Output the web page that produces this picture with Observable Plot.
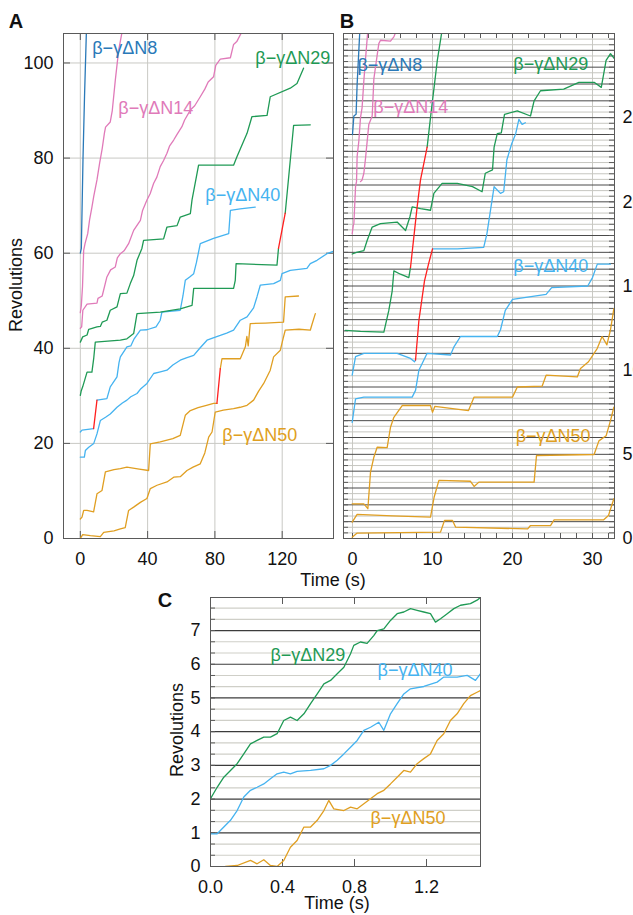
<!DOCTYPE html>
<html><head><meta charset="utf-8">
<script src="https://cdn.jsdelivr.net/npm/d3@7"></script>
<script src="https://cdn.jsdelivr.net/npm/@observablehq/plot@0.6"></script>
<style>
html,body{margin:0;padding:0;background:#fff;}
body{width:633px;height:915px;overflow:hidden;position:relative;font-family:"Liberation Sans",Arial,Helvetica,sans-serif;}
.panel{position:absolute;}
.panel svg{max-width:none;display:block;}
#overlay{position:absolute;left:0;top:0;pointer-events:none;}
</style></head><body>
<div id="pA" class="panel" style="left:0;top:0;width:345px;height:600px"></div>
<div id="pB" class="panel" style="left:340px;top:0;width:293px;height:600px"></div>
<div id="pC" class="panel" style="left:150px;top:585px;width:345px;height:330px"></div>
<svg id="overlay" width="633" height="915"></svg>
<script>
// ---------- series names & colours ----------
const SERIES = ["β−γΔN8", "β−γΔN14", "β−γΔN29", "β−γΔN40", "β−γΔN50"];
const COLORS = ["#2a79b8", "#e07ab9", "#1f9a55", "#45b3f0", "#e09f22"];
const RED = "#ff1f1f";

// ---------- Panel A : [time s, revolutions] ----------
const A_N8 = [[0,60],[0.6,61],[1.6,80],[2.5,93],[3.6,106.5]];
const A_N14a = [[0,47.5],[0.6,49],[1.3,53],[2,60.6],[2.8,62],[4.4,64.1],[5.5,67],[6.9,69.7],[8,72],[9.9,75.4],[11.5,79],[13,82],[14.3,85.2],[15,86.5],[17.8,87.6],[19,90],[20.8,96.4],[22.8,102.7],[24.8,106.5]];
const A_N14b = [[0,44.2],[0.8,44.5],[1.5,48],[4,49.3],[9.9,49.5],[10.5,50.5],[13,51],[15.8,55],[18,56.5],[20.8,57.1],[22,59],[23.8,59.9],[26,60.5],[28.7,62],[31.7,64.8],[33,65.5],[35.7,66.9],[37,69],[39.6,71.2],[41.5,72.5],[43.6,74.7],[45.5,76],[47.5,78.2],[49.5,79.5],[51.5,81],[53,82.5],[55.5,83.8],[57.5,85],[60.4,86.6],[62,88],[65.4,90.1],[68,91],[71.3,92.9],[74,94.5],[76,96],[79.2,97.1],[80.5,99.5],[83.2,100.8],[89.2,101.1],[91.1,103.9],[93,104.5],[96.1,106.6]];
const A_N29a = [[0,41.3],[1.4,42.4],[4,42.8],[5,44],[9.9,44.5],[11.9,44.6],[13,45.5],[15.8,45.9],[17.8,48],[21.8,48.7],[23.8,51.5],[27.7,51.6],[29.7,53.6],[31.7,55.3],[33.7,58.5],[36.6,61],[37.6,62.7],[49.5,63],[51.5,65.5],[57.5,65.8],[59.4,67.6],[65.4,68.3],[66.4,71.2],[70.3,78.5],[91.1,78.5],[93.1,80.3],[99.1,85.2],[102,88.7],[111,89],[112.9,92.9],[124.8,94.7],[128.8,95.7],[132.7,98.9]];
const A_N29b = [[0,30.1],[0.5,31],[1.4,31.9],[4,35],[6.9,35],[8,38],[8.9,41.3],[23.8,41.7],[27.7,42],[31.7,43.1],[33.7,47.3],[47.5,47.6],[59.4,48.3],[66.4,49],[67.4,52.6],[91.1,52.6],[92.1,54.3],[92.6,57.8],[116.9,57.5],[117.8,61]];
const A_N29b_red = [[117.8,61],[121.8,68.4]];
const A_N29b_end = [[121.8,68.4],[126.8,86.9],[136.7,87]];
const A_N40a = [[0,22.4],[1,22.8],[7.9,23.1]];
const A_N40a_red = [[7.9,23.1],[9.9,29.1]];
const A_N40a_end = [[9.9,29.1],[15.8,29.4],[17.8,31.9],[19,32.5],[21.8,34],[23,37],[23.8,38.2],[27.7,40.3],[30,40.5],[32,42],[35.7,43.8],[39.6,43.9],[45,44.5],[47.5,45.9],[48.5,47.6],[59.4,48],[61,51],[62.4,54.3],[65,55],[67.4,55.7],[69,58],[71.3,62],[79.2,63.1],[88.2,64.1],[89.2,69],[95,69.3],[104,69.7]];
const A_N40b = [[0,17.1],[2.4,17.1],[3,18.5],[5,19.2],[8,20],[9.9,22],[11.9,24.8],[15,25.5],[17.8,26.2],[21.8,27.6],[25,28.5],[27.7,29.1],[30,29.8],[33.7,30.5],[36,31.5],[39.6,32.6],[43.6,34.7],[47,35],[51.5,35.4],[55,36.5],[59.4,37.5],[63,38],[67.4,38.5],[71,40],[75.3,41.7],[79,42.2],[83.2,42.7],[87,43.2],[91.1,43.8],[95.1,45.9],[99.1,46.6],[103,48.5],[105,50.8],[107,53.3],[114.9,53.6],[118.9,54.3],[119.9,55.7],[124.8,56.4],[134.7,56.8],[136.7,57.8],[140.7,58.5],[146.6,59.9],[150.6,60.4]];
const A_N50a = [[0,4.1],[1,4.5],[2,5.9],[4,5.9],[7.9,5.6],[9.9,9.4],[12.9,10.1],[14.9,14],[20,14.5],[23.8,14.7],[27.7,15],[35,14.6],[40.6,14.3],[41.6,19.9],[47.5,20.3],[55,21],[59.4,21.7],[62.4,25.9],[65.4,26.9],[70,27.5],[75,28],[79.2,28.4],[81.2,28.4]];
const A_N50a_red = [[81.2,28.4],[83.2,35.7]];
const A_N50a_end = [[83.2,35.7],[84.2,37.8],[95.1,37.8],[98.1,40.3],[99,42.5],[99.8,40.5],[101,45.2],[110,45.3],[120.8,45.5],[121.8,50.8],[129.7,51]];
const A_N50b = [[0,0],[1.4,0.8],[6,0.6],[11.9,0.4],[13.9,1.3],[20,1.6],[23.8,2],[26.7,2.3],[28.7,5.9],[31.7,6.6],[35.7,7.6],[39.6,8.4],[41.6,10.5],[45.6,11.2],[51.5,11.9],[55.5,12.9],[59.4,13],[63.4,14.3],[67,15],[71.3,15.7],[74,18],[76.3,21.3],[78.3,22.4],[80.2,26.6],[85,27],[91.1,27.3],[95,27.6],[99.1,28],[103,29.1],[106,31],[109,32.6],[112.9,35.4],[114.9,38.2],[118.9,39.6],[120.5,42],[121.8,43.8],[130,44],[136.7,43.8],[137.7,45],[139.7,47.3]];
const A_xticks = [0, 40, 80, 120];
const A_yticks = [0, 20, 40, 60, 80, 100];
const A_labelT = [7.1, 22.6, 104, 74.3, 84.4];
const A_labelR = [103.2, 90.5, 101, 72.2, 21.7];

// ---------- Panel B ----------
const B_N8 = [[0,24],[0.17,25.1],[0.45,25.2],[0.58,27],[0.92,30.2]];
const B_N14a = [[-0.04,18.1],[0.1,18.6],[0.17,18.7],[0.38,20.9],[0.5,21.2],[0.58,22.7],[0.79,23.6],[1,25],[1.2,25.6],[1.42,27.2],[1.63,28.5],[1.92,30.2]];
const B_N14b = [[1,21.2],[1.2,21.3],[1.42,21.7],[1.63,22.6],[2.04,24.6],[2.46,25.1],[2.67,27.3],[3.08,28.7],[3.29,29.4],[3.5,29.6],[4.75,29.55],[5.17,29.8],[5.5,30.2]];
const B_N29a = [[-0.04,16.9],[0.5,17.0],[1.42,17.1],[1.83,17.7],[2.46,18.5],[3.5,18.7],[5.58,18.8],[6.63,18.3],[7.17,19.1],[7.46,19.7],[8.5,19.6],[9.75,19.5],[10.17,20.5],[11.2,21.1],[13.1,21.1],[15,20.9],[16.2,20.6],[16.6,21.7],[17.5,21.9],[17.7,23.25],[18.1,24.05],[18.6,24.1],[19,25.2],[20.6,25.4],[22.25,25.1],[22.7,26],[23.5,26.6],[26.4,26.7],[28.3,27.1],[30.2,27.1],[31.1,26.8],[31.7,28.4],[32.25,28.8],[32.75,28.5]];
const B_N29b = [[-0.88,12.36],[1,12.3],[3.92,12.26],[4.54,13.55],[4.96,14.7],[5.17,15.9],[6,15.7],[7.04,15.5],[7.25,16.1]];
const B_N29b_red = [[7.25,16.1],[8.08,19.7],[8.5,21.3],[9.33,23.25]];
const B_N29b_end = [[9.33,23.25],[9.75,25],[10.6,28.4],[11.2,30.2]];
const B_N40a = [[-0.04,9.7],[0.38,10.8],[1.42,11],[5.58,11],[7.25,10.7],[7.75,10.5],[7.88,10.6]];
const B_N40a_red = [[7.88,10.6],[8.3,12.95],[9,15.3],[9.5,16.3],[10,17.2]];
const B_N40a_end = [[10,17.2],[13.1,17.2],[16.4,17.3],[16.8,18.1],[17.7,20.9],[18.5,20.5],[18.9,20.6],[19.3,22.5],[19.9,23.45],[20.4,24.05],[20.8,24.9],[21.2,24.6],[21.6,24.7]];
const B_N40b = [[-0.04,6.9],[0.38,8.3],[1.42,8.4],[7.46,8.4],[7.88,8.8],[8.3,10],[9.33,11],[12.25,10.9],[12.7,11.4],[13.5,12],[18.1,12],[18.5,12.4],[19.1,13.55],[20,14.2],[24.2,14.5],[24.9,14.9],[29.4,15],[30,15.5],[30.6,16.3],[32.25,16.3]];
const B_N50a = [[-0.04,2.06],[1.42,2.06],[1.92,1.77],[2.25,3.94],[2.67,4.83],[3.08,5.42],[4.33,5.4],[4.75,6.61],[5.17,7.2],[6.21,7.9],[9.75,7.9],[10,7.5],[10.3,7.85],[14.5,7.6],[15.2,8.4],[20,8.4],[20.6,9],[23.7,9.05],[24.2,9.7],[28.1,9.6],[28.5,10.1],[29.5,10.5],[30.6,11.3],[31.2,12],[31.8,11.5],[32.25,12.4],[32.67,13.65]];
const B_N50b = [[-0.04,0.97],[0.58,1.43],[5,1.35],[9.75,1.27],[10.2,2.45],[10.8,3.45],[14.75,3.4],[15.2,3.09],[15.8,3.35],[22.7,3.35],[23,4.93],[30.2,4.99],[30.8,5.8],[31.7,6.1],[32.25,7],[32.67,7.8]];
const B_N50c = [[-0.04,0.08],[0.58,0.32],[11,0.38],[11.5,1.07],[12.5,1.07],[12.9,0.67],[21.9,0.57],[22.25,0.77],[24.75,0.77],[25.2,1.11],[31.4,1.11],[32,1.37],[32.67,2.36]];
const B_xticks = [0, 10, 20, 30];
const B_yticks = [0, 5, 10, 15, 20, 25];
const B_labelT = [0.62, 2.6, 20.1, 20.1, 20.4];
const B_labelR = [28.1, 25.6, 28.2, 16.2, 6.1];

// ---------- Panel C ----------
const C_N29 = [[0,2.01],[0.037,2.35],[0.074,2.65],[0.111,2.85],[0.148,3.05],[0.185,3.34],[0.222,3.64],[0.259,3.74],[0.296,3.84],[0.333,3.84],[0.37,3.94],[0.407,4.33],[0.444,4.43],[0.481,4.33],[0.519,4.53],[0.556,4.83],[0.593,5.12],[0.63,5.42],[0.667,5.52],[0.704,5.72],[0.741,5.91],[0.778,6.31],[0.796,6.56],[0.833,6.66],[0.87,6.62],[0.907,6.85],[0.926,7.0],[0.963,7.05],[1.0,7.3],[1.037,7.5],[1.074,7.55],[1.111,7.65],[1.148,7.6],[1.185,7.55],[1.222,7.5],[1.25,7.25],[1.278,7.35],[1.315,7.5],[1.352,7.65],[1.389,7.75],[1.444,7.8],[1.481,7.9],[1.5,7.98]];
const C_N40 = [[0,0.97],[0.037,0.97],[0.074,1.17],[0.111,1.37],[0.148,1.66],[0.185,2.06],[0.222,2.26],[0.259,2.35],[0.296,2.45],[0.333,2.6],[0.37,2.75],[0.407,2.8],[0.444,2.75],[0.481,2.82],[0.556,2.85],[0.63,2.9],[0.667,3.0],[0.704,3.15],[0.741,3.34],[0.778,3.54],[0.815,3.74],[0.852,4.04],[0.889,4.13],[0.935,4.28],[0.963,4.04],[1.0,4.53],[1.037,4.83],[1.074,5.12],[1.111,5.27],[1.185,5.34],[1.259,5.47],[1.296,5.62],[1.37,5.62],[1.426,5.67],[1.472,5.52],[1.5,5.72]];
const C_N50 = [[0.083,0],[0.148,0.03],[0.222,0.18],[0.259,0.08],[0.296,0.2],[0.333,0.03],[0.37,0],[0.407,0.18],[0.444,0.57],[0.481,0.77],[0.519,1.17],[0.556,1.17],[0.593,1.37],[0.63,1.66],[0.657,1.96],[0.685,1.71],[0.741,1.66],[0.778,1.76],[0.815,1.71],[0.852,1.86],[0.889,2.01],[0.926,2.16],[0.963,2.26],[1.0,2.45],[1.037,2.65],[1.074,2.85],[1.111,2.8],[1.148,3.05],[1.185,3.2],[1.222,3.34],[1.259,3.74],[1.296,3.94],[1.333,4.33],[1.37,4.53],[1.407,4.83],[1.444,5.07],[1.481,5.17],[1.5,5.22]];
const C_xticks = [0, 0.4, 0.8, 1.2];
const C_yticks = [0, 1, 2, 3, 4, 5, 6, 7];
const C_labelT = [0.333, 0.928, 0.889];
const C_labelR = [6.26, 5.82, 1.42];

// ---------- helpers ----------
const FONT = '"Liberation Sans", Arial, Helvetica, sans-serif';
const FRAME = "#5a5a5a";
function tr(data, color) {
  return Plot.line(data, {x: d => d[0], y: d => d[1], stroke: color, strokeWidth: 1.3, clip: true});
}
function lab(text, t, r, color) {
  return Plot.text([{t, r, s: text}], {x: "t", y: "r", text: "s", fill: color, textAnchor: "start", fontSize: 18, lineAnchor: "middle"});
}
const thirds = (max) => d3.range(0, Math.round(max * 3) + 1).filter(i => i % 3 !== 0).map(i => i / 3);
const ints = (max) => d3.range(1, Math.floor(max) + 1);

// ---------- Panel A ----------
const AW = 345, AH = 600, AmL = 63, AmR = 12, AmT = 33, AmB = 62;
const AfW = AW - AmL - AmR, AfH = AH - AmT - AmB;
const plotA = Plot.plot({
  width: AW, height: AH, marginLeft: AmL, marginRight: AmR, marginTop: AmT, marginBottom: AmB,
  style: {fontFamily: FONT, fontSize: "18px", color: "#111", background: "transparent"},
  x: {domain: [-10, 150.5]}, y: {domain: [0, 106.2]},
  marks: [
    Plot.gridX(A_xticks, {stroke: "#c9c9c4", strokeOpacity: 1}),
    Plot.gridY(A_yticks, {stroke: "#c9c9c4", strokeOpacity: 1}),
    Plot.tickY(A_yticks, {y: d => d, insetRight: AfW - 7, stroke: FRAME}),
    Plot.tickY(A_yticks, {y: d => d, insetLeft: AfW - 7, stroke: FRAME}),
    Plot.tickX(A_xticks, {x: d => d, insetTop: AfH - 7, stroke: FRAME}),
    Plot.tickX(A_xticks, {x: d => d, insetBottom: AfH - 7, stroke: FRAME}),
    Plot.axisY(A_yticks, {tickSize: 0, tickPadding: 10, label: null}),
    Plot.axisX(A_xticks, {tickSize: 0, tickPadding: 14, label: null}),
    tr(A_N50b, COLORS[4]), tr(A_N50a, COLORS[4]), tr(A_N50a_end, COLORS[4]),
    tr(A_N40b, COLORS[3]), tr(A_N40a, COLORS[3]), tr(A_N40a_end, COLORS[3]),
    tr(A_N29b, COLORS[2]), tr(A_N29b_end, COLORS[2]), tr(A_N29a, COLORS[2]),
    tr(A_N14b, COLORS[1]), tr(A_N14a, COLORS[1]),
    tr(A_N8, COLORS[0]),
    tr(A_N50a_red, RED), tr(A_N40a_red, RED), tr(A_N29b_red, RED),
    ...SERIES.map((s, i) => lab(s, A_labelT[i], A_labelR[i], COLORS[i])),
    Plot.frame({stroke: FRAME})
  ]
});
document.getElementById("pA").appendChild(plotA);

// ---------- Panel B ----------
const BW = 293, BH = 600, BmL = 3, BmR = 19, BmT = 33, BmB = 62;
const BfW = BW - BmL - BmR, BfH = BH - BmT - BmB;
const B_all = thirds(30).concat(ints(30));
const plotB = Plot.plot({
  width: BW, height: BH, marginLeft: BmL, marginRight: BmR, marginTop: BmT, marginBottom: BmB,
  style: {fontFamily: FONT, fontSize: "18px", color: "#111", background: "transparent"},
  x: {domain: [-1.125, 32.75]}, y: {domain: [0, 30.0]},
  marks: [
    Plot.gridX(B_xticks, {stroke: "#c9c9c4", strokeOpacity: 1}),
    Plot.ruleY(thirds(30), {stroke: "#c6c6c0", strokeWidth: 1}),
    Plot.ruleY(ints(30), {stroke: "#4a4a4a", strokeWidth: 1}),
    Plot.tickY(B_all, {y: d => d, insetRight: BfW - 5, stroke: FRAME}),
    Plot.tickY(B_all, {y: d => d, insetLeft: BfW - 5, stroke: FRAME}),
    Plot.tickX(d3.range(0, 33, 2), {x: d => d, insetTop: BfH - 5, stroke: FRAME}),
    Plot.tickX(d3.range(0, 33, 2), {x: d => d, insetBottom: BfH - 5, stroke: FRAME}),
    Plot.axisY(B_yticks, {anchor: "right", tickSize: 0, tickPadding: 8, label: null}),
    Plot.axisX(B_xticks, {tickSize: 0, tickPadding: 14, label: null}),
    tr(B_N50c, COLORS[4]), tr(B_N50b, COLORS[4]), tr(B_N50a, COLORS[4]),
    tr(B_N40b, COLORS[3]), tr(B_N40a, COLORS[3]), tr(B_N40a_end, COLORS[3]),
    tr(B_N29b, COLORS[2]), tr(B_N29b_end, COLORS[2]), tr(B_N29a, COLORS[2]),
    tr(B_N14b, COLORS[1]), tr(B_N14a, COLORS[1]),
    tr(B_N8, COLORS[0]),
    tr(B_N40a_red, RED), tr(B_N29b_red, RED),
    ...SERIES.map((s, i) => lab(s, B_labelT[i], B_labelR[i], COLORS[i])),
    Plot.frame({stroke: FRAME})
  ]
});
document.getElementById("pB").appendChild(plotB);

// ---------- Panel C ----------
const CW = 345, CH = 330, CmL = 60, CmR = 15, CmT = 12, CmB = 49;
const CfW = CW - CmL - CmR, CfH = CH - CmT - CmB;
const C_all = thirds(7.98).concat(ints(7.98));
const plotC = Plot.plot({
  width: CW, height: CH, marginLeft: CmL, marginRight: CmR, marginTop: CmT, marginBottom: CmB,
  style: {fontFamily: FONT, fontSize: "18px", color: "#111", background: "transparent"},
  x: {domain: [0, 1.5]}, y: {domain: [0, 7.98]},
  marks: [
    Plot.ruleY(thirds(7.98), {stroke: "#cfcfc8", strokeWidth: 1.2}),
    Plot.ruleY(ints(7.98), {stroke: "#3c3c3c", strokeWidth: 1.2}),
    Plot.tickY(C_all, {y: d => d, insetRight: CfW - 5, stroke: FRAME}),
    Plot.tickX(C_xticks, {x: d => d, insetTop: CfH - 7, stroke: FRAME}),
    Plot.tickX(C_xticks, {x: d => d, insetBottom: CfH - 7, stroke: FRAME}),
    Plot.axisY(C_yticks, {tickSize: 0, tickPadding: 10, label: null}),
    Plot.axisX(C_xticks, {tickSize: 0, tickPadding: 14, tickFormat: d3.format(".1f"), label: null}),
    tr(C_N50, COLORS[4]), tr(C_N40, COLORS[3]), tr(C_N29, COLORS[2]),
    ...[2, 3, 4].map((k, i) => lab(SERIES[k], C_labelT[i], C_labelR[i], COLORS[k])),
    Plot.frame({stroke: FRAME})
  ]
});
document.getElementById("pC").appendChild(plotC);

// ---------- titles & panel letters ----------
const ov = d3.select("#overlay").style("font-family", FONT);
const titles = [
  {s: "Revolutions", x: 16, y: 285, rot: -90, size: 18, w: "normal"},
  {s: "Time (s)", x: 333, y: 580, rot: 0, size: 18, w: "normal"},
  {s: "Revolutions", x: 177, y: 730, rot: -90, size: 18, w: "normal"},
  {s: "Time (s)", x: 337, y: 903, rot: 0, size: 18, w: "normal"},
  {s: "A", x: 16, y: 21, rot: 0, size: 20, w: "bold"},
  {s: "B", x: 347, y: 21, rot: 0, size: 20, w: "bold"},
  {s: "C", x: 165, y: 600, rot: 0, size: 20, w: "bold"}
];
ov.selectAll("text").data(titles).join("text")
  .attr("transform", d => `translate(${d.x},${d.y}) rotate(${d.rot})`)
  .attr("text-anchor", "middle").attr("dy", "0.35em")
  .attr("font-size", d => d.size).attr("font-weight", d => d.w).attr("fill", "#111")
  .text(d => d.s);
</script>
</body></html>
